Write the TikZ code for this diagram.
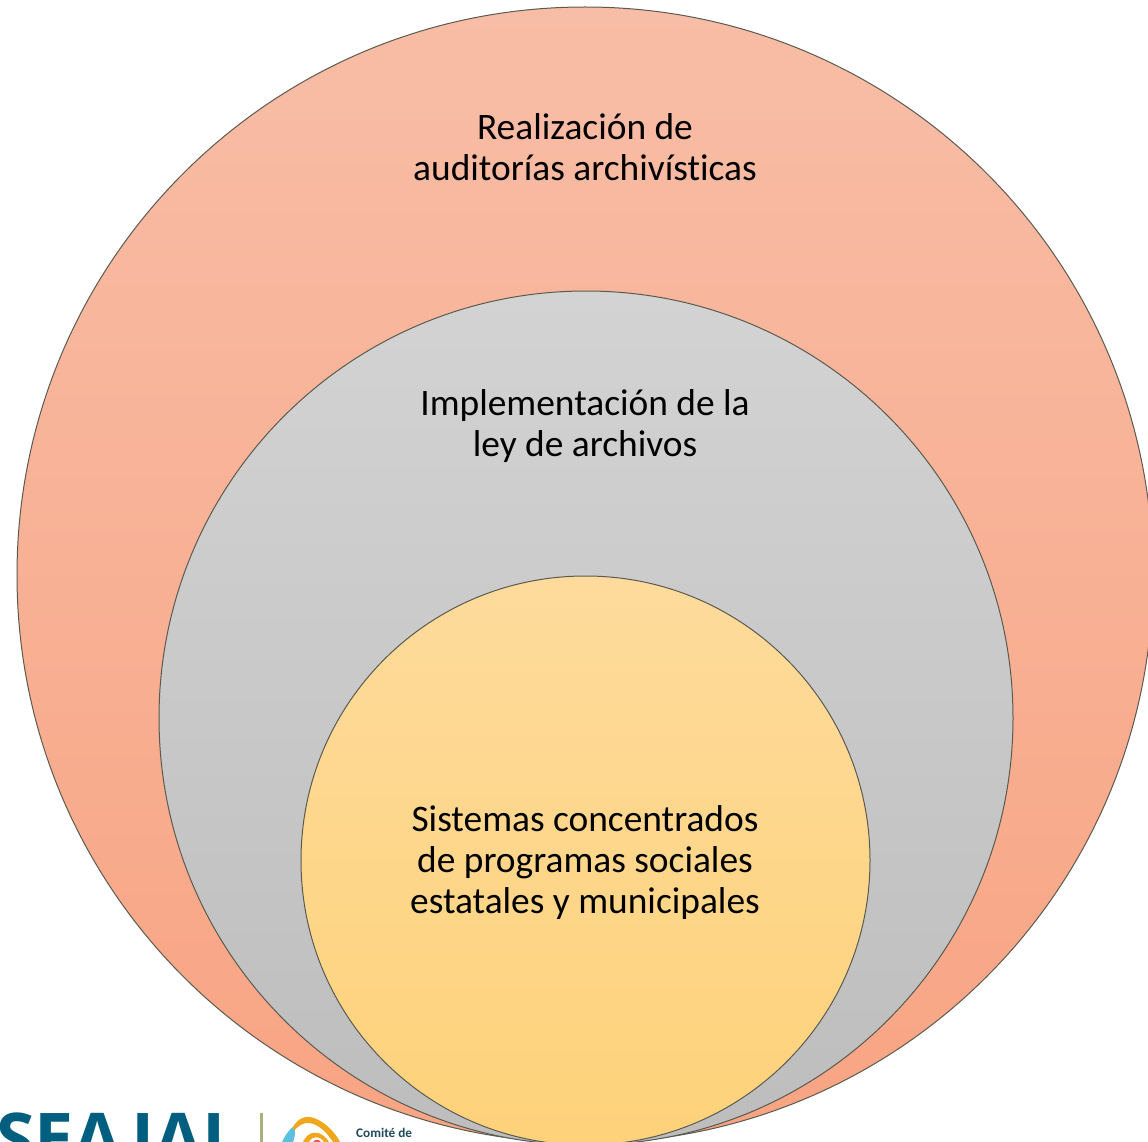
\documentclass[tikz,border=0pt]{standalone}
\usepackage{fontspec}
\setmainfont[Ligatures=NoCommon]{Carlito}
\newfontfamily\logofont{Open Sans}
\definecolor{ringline}{HTML}{5A5A50}
\definecolor{logoblue}{HTML}{005F7F}
\definecolor{logodark}{HTML}{1F4A5C}
\definecolor{logoline}{HTML}{A9B07A}
\definecolor{logoorange}{HTML}{EFA81E}
\definecolor{logosky}{HTML}{5CC0E0}
\definecolor{logored}{HTML}{E0604A}
\definecolor{F1}{HTML}{F8BDA6}
\definecolor{F2}{HTML}{F8A483}
\definecolor{G1}{HTML}{D3D3D3}
\definecolor{G2}{HTML}{BDBDBD}
\definecolor{Y1}{HTML}{FEDB9C}
\definecolor{Y2}{HTML}{FED27A}
\tikzset{
  disc/.style={circle,inner sep=0pt,draw=ringline,line width=1pt,shading angle=0},
  lbl/.style={align=center,font=\fontsize{37.4}{41}\selectfont,text=black,inner sep=0pt},
}
\begin{document}
\begin{tikzpicture}[x=1pt,y=-1pt]
\useasboundingbox (0,0) rectangle (1148,1142);
\begin{scope}
\clip (0,0) rectangle (1148,1142);
\node[disc,minimum size=1136pt,top color=F1,bottom color=F2] (outer) at (585,575) {};
\node[disc,minimum size=854pt,top color=G1,bottom color=G2] (middle) at (586,718) {};
\node[disc,minimum size=569pt,top color=Y1,bottom color=Y2] (inner) at (585.5,860.5) {};
\node[lbl] (t1) at (585,147) {Realización de\\auditorías archivísticas};
\node[lbl] (t2) at (585,426) {Implementación de la\\ley de archivos};
\node[lbl] (t3) at (585,863) {Sistemas concentrados\\de programas sociales\\estatales y municipales};
\node[anchor=base west,inner sep=0pt,text=logoblue,font=\logofont\bfseries\fontsize{70}{70}\selectfont] (logo) at (-4,1163) {SEAJAL};
\fill[color=logoline] (260,1113) rectangle (262.5,1142);
\fill[color=logosky] (282,1142) .. controls (285,1135) and (289,1130) .. (294,1126) .. controls (296,1131) and (295,1137) .. (293,1142) -- cycle;
\fill[color=logoorange] (293,1127) .. controls (298,1118) and (306,1115) .. (314,1118) .. controls (325,1122) and (335,1132) .. (340,1142) -- (333,1142) .. controls (326,1131) and (316,1122) .. (306,1123) .. controls (301,1124) and (297,1127) .. (294,1131) -- cycle;
\fill[color=logoorange] (303,1142) .. controls (308,1130) and (321,1129) .. (329,1142) -- (324,1142) .. controls (320,1136) and (313,1135) .. (309,1142) -- cycle;
\fill[color=logored] (313,1142) .. controls (315,1139) and (319,1139) .. (321,1142) -- cycle;
\node[anchor=base west,inner sep=0pt,text=logodark,font=\bfseries\fontsize{13.2}{15}\selectfont] (logotext) at (356,1137) {Comité de};
\end{scope}
\end{tikzpicture}
\end{document}
